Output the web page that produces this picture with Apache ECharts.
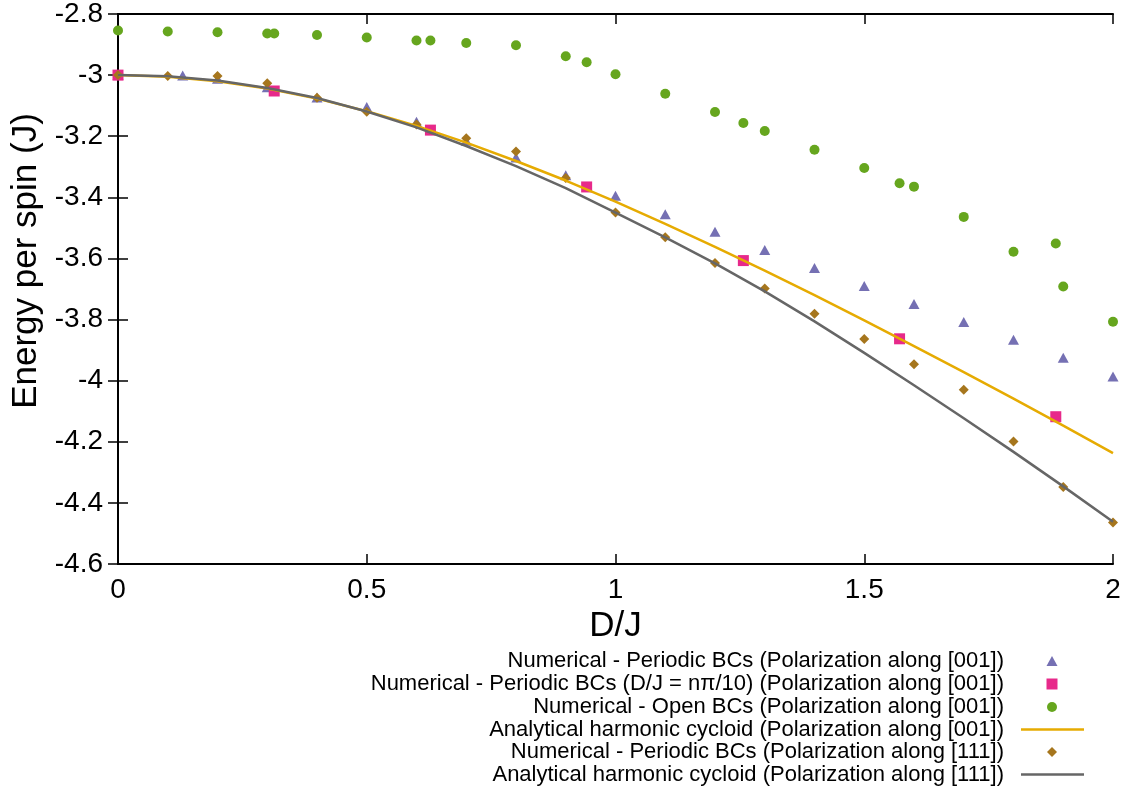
<!DOCTYPE html>
<html>
<head>
<meta charset="utf-8">
<script src="https://cdn.jsdelivr.net/npm/echarts@6/dist/echarts.min.js"></script>
<style>
  html, body { margin: 0; padding: 0; background: #ffffff; }
  #chart { width: 1140px; height: 790px; }
</style>
</head>
<body>
<div id="chart"></div>
<script>
// ---- Data ----
// Numerical - Periodic BCs (Polarization along [001])  (triangles)
const triD = [0, 0.13, 0.2, 0.3, 0.4, 0.5, 0.6, 0.7, 0.8, 0.9, 1.0, 1.1, 1.2, 1.3, 1.4, 1.5, 1.6, 1.7, 1.8, 1.9, 2.0];
const triE = [-3.0, -3.001, -3.012, -3.04, -3.073, -3.104, -3.153, -3.215, -3.27, -3.328, -3.395, -3.455, -3.513, -3.572, -3.631, -3.690, -3.749, -3.808, -3.866, -3.925, -3.986];

// Numerical - Periodic BCs (D/J = n pi/10) (Polarization along [001])  (squares)
const sqD = [0, 0.314, 0.628, 0.942, 1.257, 1.571, 1.885];
const sqE = [-3.0, -3.052, -3.18, -3.366, -3.607, -3.863, -4.118];

// Numerical - Open BCs (Polarization along [001])  (circles)
const openD = [0, 0.1, 0.2, 0.3, 0.314, 0.4, 0.5, 0.6, 0.628, 0.7, 0.8, 0.9, 0.942, 1.0, 1.1, 1.2, 1.257, 1.3, 1.4, 1.5, 1.571, 1.6, 1.7, 1.8, 1.885, 1.9, 2.0];
const openE = [-2.854, -2.857, -2.860, -2.864, -2.864, -2.869, -2.877, -2.887, -2.887, -2.895, -2.902, -2.938, -2.958, -2.997, -3.061, -3.121, -3.157, -3.183, -3.244, -3.304, -3.354, -3.365, -3.464, -3.578, -3.551, -3.692, -3.807];

// Analytical harmonic cycloid (Polarization along [001])  (orange line)
const lineD = [0, 0.1, 0.2, 0.3, 0.4, 0.5, 0.6, 0.7, 0.8, 0.9, 1.0, 1.1, 1.2, 1.3, 1.4, 1.5, 1.6, 1.7, 1.8, 1.9, 2.0];
const cyc001E = [-3.000, -3.005, -3.020, -3.044, -3.077, -3.118, -3.166, -3.221, -3.281, -3.345, -3.414, -3.487, -3.562, -3.640, -3.720, -3.803, -3.887, -3.972, -4.059, -4.147, -4.237];

// Numerical - Periodic BCs (Polarization along [111])  (diamonds)
const dia111D = [0, 0.1, 0.2, 0.3, 0.4, 0.5, 0.6, 0.7, 0.8, 0.9, 1.0, 1.1, 1.2, 1.3, 1.4, 1.5, 1.6, 1.7, 1.8, 1.9, 2.0];
const dia111E = [-3.0, -3.003, -3.003, -3.027, -3.074, -3.12, -3.162, -3.207, -3.25, -3.337, -3.45, -3.531, -3.615, -3.698, -3.781, -3.864, -3.946, -4.03, -4.199, -4.348, -4.464];

// Analytical harmonic cycloid (Polarization along [111])  (grey line)
const cyc111E = [-3.000, -3.004, -3.018, -3.042, -3.075, -3.119, -3.171, -3.232, -3.298, -3.370, -3.450, -3.531, -3.616, -3.708, -3.806, -3.909, -4.015, -4.123, -4.233, -4.346, -4.462];

// Axis ticks
const xTicks = { min: 0, max: 2, interval: 0.5 };
const yTicks = { min: -4.6, max: -2.8, interval: 0.2 };

// Legend labels
const names = [
  'Numerical - Periodic BCs (Polarization along [001])',
  'Numerical - Periodic BCs (D/J = n\u03C0/10) (Polarization along [001])',
  'Numerical - Open BCs (Polarization along [001])',
  'Analytical harmonic cycloid (Polarization along [001])',
  'Numerical - Periodic BCs (Polarization along [111])',
  'Analytical harmonic cycloid (Polarization along [111])'
];

const colors = ['#7570b3', '#e7298a', '#66a61e', '#e6ab02', '#a6761d', '#666666'];

function pairs(xs, ys) { return xs.map((x, i) => [x, ys[i]]); }

const FONT = 'Liberation Sans, Arial, Helvetica, sans-serif';

const chart = echarts.init(document.getElementById('chart'), null, { renderer: 'canvas' });

const axisLineStyle = { color: '#000', width: 2 };
const tickStyle = { show: true, inside: true, length: 10, lineStyle: { color: '#000', width: 1.5 } };

// legend layout: symbol centred at x=1052, line sample from x=1021 to 1084, text ends at x=1004
const legendRows = [659, 682, 705, 727.5, 750, 772.5];
const legendKinds = [
  { icon: 'triangle', w: 11, h: 10 },
  { icon: 'rect', w: 11, h: 11 },
  { icon: 'circle', w: 10, h: 10 },
  { icon: 'path://M0,0H252V10H0Z', w: 63, h: 2.5 },
  { icon: 'diamond', w: 10, h: 10 },
  { icon: 'path://M0,0H252V10H0Z', w: 63, h: 2.5 }
];
const legends = names.map((n, i) => {
  const k = legendKinds[i];
  const rightEdge = k.w === 63 ? 1084 : 1052 + k.w / 2;
  const iconLeft = rightEdge - k.w;
  return {
    show: true,
    orient: 'vertical',
    right: 1140 - rightEdge,
    top: legendRows[i] - 9,
    padding: 0,
    align: 'right',
    itemWidth: k.w,
    itemHeight: k.h,
    selectedMode: false,
    textStyle: { fontFamily: FONT, fontSize: 22, color: '#000', padding: [0, iconLeft - 5 - 1004, 0, 0] },
    data: [{ name: n, icon: k.icon }]
  };
});

const option = {
  backgroundColor: '#ffffff',
  animation: false,
  color: colors,
  grid: { left: 118, right: 27, top: 13, bottom: 226, containLabel: false },
  legend: legends,
  xAxis: [
    {
      type: 'value', position: 'bottom',
      min: xTicks.min, max: xTicks.max, interval: xTicks.interval,
      name: 'D/J', nameLocation: 'middle', nameGap: 39,
      nameTextStyle: { fontFamily: FONT, fontSize: 35, color: '#000' },
      axisLine: { show: true, lineStyle: axisLineStyle },
      axisTick: tickStyle,
      axisLabel: { fontFamily: FONT, fontSize: 28, color: '#000', margin: 12 },
      splitLine: { show: false }
    },
    {
      type: 'value', position: 'top',
      min: xTicks.min, max: xTicks.max, interval: xTicks.interval,
      axisLine: { show: true, lineStyle: axisLineStyle },
      axisTick: tickStyle,
      axisLabel: { show: false },
      splitLine: { show: false }
    }
  ],
  yAxis: [
    {
      type: 'value', position: 'left',
      min: yTicks.min, max: yTicks.max, interval: yTicks.interval,
      name: 'Energy per spin (J)', nameLocation: 'middle', nameGap: 72, nameRotate: 90,
      nameTextStyle: { fontFamily: FONT, fontSize: 35, color: '#000', padding: [0, 0, 0, 56] },
      axisLine: { show: true, lineStyle: axisLineStyle },
      axisTick: tickStyle,
      axisLabel: { fontFamily: FONT, fontSize: 28, color: '#000', margin: 15 },
      splitLine: { show: false }
    },
    {
      type: 'value', position: 'right',
      min: yTicks.min, max: yTicks.max, interval: yTicks.interval,
      axisLine: { show: true, lineStyle: axisLineStyle },
      axisTick: tickStyle,
      axisLabel: { show: false },
      splitLine: { show: false }
    }
  ],
  series: [
    {
      name: names[0], type: 'scatter', symbol: 'triangle', symbolSize: [11, 10],
      itemStyle: { color: colors[0], opacity: 1 }, data: pairs(triD, triE)
    },
    {
      name: names[1], type: 'scatter', symbol: 'rect', symbolSize: 11,
      itemStyle: { color: colors[1], opacity: 1 }, data: pairs(sqD, sqE)
    },
    {
      name: names[2], type: 'scatter', symbol: 'circle', symbolSize: 10,
      itemStyle: { color: colors[2], opacity: 1 }, data: pairs(openD, openE)
    },
    {
      name: names[3], type: 'line', symbol: 'none', showSymbol: false,
      lineStyle: { color: colors[3], width: 2.5 }, itemStyle: { color: colors[3] },
      data: pairs(lineD, cyc001E)
    },
    {
      name: names[4], type: 'scatter', symbol: 'diamond', symbolSize: 10,
      itemStyle: { color: colors[4], opacity: 1 }, data: pairs(dia111D, dia111E)
    },
    {
      name: names[5], type: 'line', symbol: 'none', showSymbol: false,
      lineStyle: { color: colors[5], width: 2.5 }, itemStyle: { color: colors[5] },
      data: pairs(lineD, cyc111E)
    }
  ]
};

chart.setOption(option);
</script>
</body>
</html>
